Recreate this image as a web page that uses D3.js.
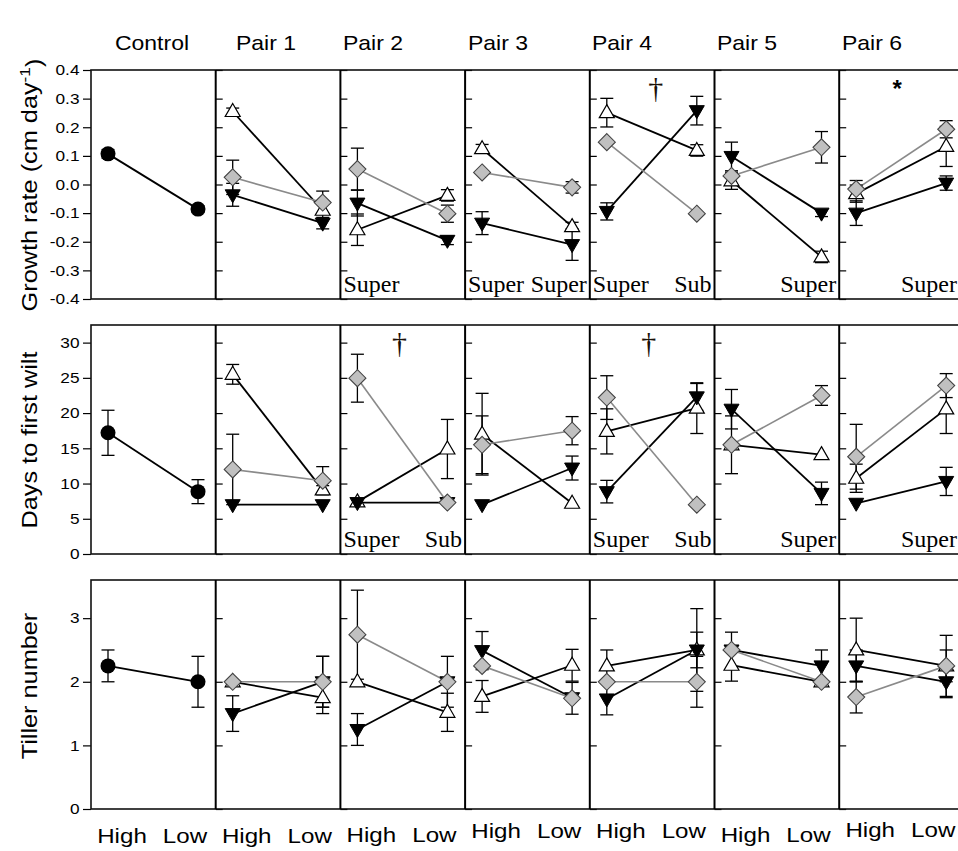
<!DOCTYPE html>
<html><head><meta charset="utf-8">
<script src="https://cdn.jsdelivr.net/npm/d3@7"></script>
<style>body{margin:0;background:#fff} svg{display:block}</style>
</head><body><svg id="c" width="958" height="851"></svg>
<script>
// ---------- DATA ----------
const panels = ["Control","Pair 1","Pair 2","Pair 3","Pair 4","Pair 5","Pair 6"];
const levels = ["High","Low"];
const rowTitles = ["Growth rate (cm day", "Days to first wilt", "Tiller number"];

const growthTicks = [-0.4,-0.3,-0.2,-0.1,0.0,0.1,0.2,0.3,0.4];
const wiltTicks = [0,5,10,15,20,25,30];
const tillerTicks = [0,1,2,3];

// Growth rate (cm day-1)
const growthControl = [0.107, -0.086], growthControlErr = [0.015, 0.012];
const growthOpen  = [[0.255,-0.090],[-0.158,-0.038],[0.125,-0.147],[0.251,0.119],[0.013,-0.253],[-0.032,0.133]];
const growthOpenErr = [[0.012,0.030],[0.055,0.020],[0.015,0.015],[0.050,0.020],[0.030,0.020],[0.030,0.070]];
const growthGray  = [[0.025,-0.063],[0.054,-0.102],[0.042,-0.010],[0.148,-0.102],[0.030,0.130],[-0.016,0.193]];
const growthGrayErr = [[0.060,0.040],[0.073,0.030],[0,0.020],[0,0],[0,0.055],[0.030,0.030]];
const growthBlack = [[-0.036,-0.135],[-0.065,-0.195],[-0.135,-0.210],[-0.094,0.258],[0.098,-0.100],[-0.100,0.005]];
const growthBlackErr = [[0.040,0.020],[0.045,0.015],[0.040,0.055],[0.030,0.050],[0.050,0.012],[0.043,0.025]];

// Days to first wilt
const wiltControl = [17.2, 8.85], wiltControlErr = [3.2, 1.7];
const wiltOpen  = [[25.5,9.1],[7.4,14.9],[17.0,7.2],[17.4,20.7],[15.5,14.1],[10.75,20.6]];
const wiltOpenErr = [[1.4,0.6],[0,4.2],[5.8,0],[3.2,3.6],[0,0],[2.0,3.5]];
const wiltGray  = [[12.0,10.4],[24.95,7.3],[15.5,17.5],[22.2,7.0],[15.5,22.5],[13.8,23.9]];
const wiltGrayErr = [[5.0,2.0],[3.4,0],[4.1,2.0],[3.1,0],[4.1,1.4],[4.6,1.7]];
const wiltBlack = [[7.0,7.0],[7.3,7.3],[7.0,12.2],[8.85,22.3],[20.55,8.6],[7.2,10.3]];
const wiltBlackErr = [[0,0],[0,0],[0,1.7],[1.6,1.9],[2.8,1.6],[0,2.0]];

// Tiller number
const tillerControl = [2.25, 2.0], tillerControlErr = [0.25, 0.4];
const tillerOpen  = [[2.0,1.75],[2.0,1.52],[1.77,2.26],[2.25,2.5],[2.26,2.0],[2.5,2.25]];
const tillerOpenErr = [[0,0.25],[0,0.3],[0.25,0.25],[0.25,0.65],[0.25,0],[0.5,0.25]];
const tillerGray  = [[2.0,2.0],[2.74,2.0],[2.25,1.74],[2.0,2.0],[2.5,2.0],[1.76,2.25]];
const tillerGrayErr = [[0,0.4],[0.7,0.4],[0,0.25],[0,0.4],[0.28,0],[0.25,0.48]];
const tillerBlack = [[1.5,2.0],[1.25,2.0],[2.49,1.75],[1.73,2.5],[2.5,2.25],[2.25,2.0]];
const tillerBlackErr = [[0.28,0.4],[0.25,0],[0.3,0],[0.25,0.28],[0,0.25],[0.25,0.25]];

// annotations (row, panel index, text, side)
const notes = [
 [0,2,"Super","start"],[0,3,"Super","start"],[0,3,"Super","end"],[0,4,"Super","start"],[0,4,"Sub","end"],
 [0,5,"Super","end"],[0,6,"Super","end"],
 [1,2,"Super","start"],[1,2,"Sub","end"],[1,4,"Super","start"],[1,4,"Sub","end"],[1,5,"Super","end"],[1,6,"Super","end"]
];
const marks = [[0,4,"\u2020",66],[1,2,"\u2020",59],[1,4,"\u2020",59],[0,6,"*",58]];

// ---------- LAYOUT ----------
const rows = [
  {top:70, bottom:299, domain:[-0.4,0.4], ticks:growthTicks, fmt:d=>d.toFixed(1), ctrl:growthControl, ctrlErr:growthControlErr,
   open:growthOpen, openErr:growthOpenErr, gray:growthGray, grayErr:growthGrayErr, black:growthBlack, blackErr:growthBlackErr, titleY:185},
  {top:325, bottom:554, domain:[0,32.5], ticks:wiltTicks, fmt:d=>String(d), ctrl:wiltControl, ctrlErr:wiltControlErr,
   open:wiltOpen, openErr:wiltOpenErr, gray:wiltGray, grayErr:wiltGrayErr, black:wiltBlack, blackErr:wiltBlackErr, titleY:440},
  {top:580, bottom:809, domain:[0,3.6], ticks:tillerTicks, fmt:d=>String(d), ctrl:tillerControl, ctrlErr:tillerControlErr,
   open:tillerOpen, openErr:tillerOpenErr, gray:tillerGray, grayErr:tillerGrayErr, black:tillerBlack, blackErr:tillerBlackErr, titleY:686}
];
const SX = 1.15;
const sans = "'Liberation Sans', Arial, sans-serif";
const serif = "'Liberation Serif', 'Times New Roman', serif";
const svg = d3.select('#c');
const PW = 124.7;
const col = d3.scaleBand().domain(panels).range([91, 91 + 7*PW]);
const xIn = d3.scalePoint().domain(levels).range([17,107]);
const xLab = d3.scalePoint().domain(levels).range([31,94]);
const labBase = [843,843,842,838,838,842,837];
const titleX = [152,266,373,498,622,747,872];

// column titles
panels.forEach((p,i)=>{
  svg.append('text').attr('transform',`translate(${titleX[i]},50) scale(${SX},1)`)
    .attr('text-anchor','middle').attr('font-family',sans).attr('font-size',20).text(p);
});

const triUp = "M0,-8L7.5,5L-7.5,5Z";
const triDown = "M0,8L7.5,-5L-7.5,-5Z";
const diamond = "M0,-8.5L8.5,0L0,8.5L-8.5,0Z";

rows.forEach((r,ri)=>{
  const y = d3.scaleLinear().domain(r.domain).range([r.bottom, r.top]);
  // axes
  panels.forEach((p,i)=>{
    const ax = i===0
      ? d3.axisLeft(y).tickValues(r.ticks).tickSize(8).tickPadding(2).tickSizeOuter(0).tickFormat(r.fmt)
      : d3.axisLeft(y).tickValues(r.ticks).tickSize(-7).tickSizeOuter(0).tickFormat('');
    const g = svg.append('g').attr('transform',`translate(${col(p)},0)`).call(ax);
    g.select('.domain').remove();
    g.selectAll('line').attr('stroke','#000').attr('stroke-width',1.2);
    g.selectAll('text').attr('font-family',sans).attr('font-size',15).attr('fill','#000')
      .attr('transform',`scale(${SX},1)`);
  });
  // frame
  svg.append('rect').attr('x',col(panels[0])).attr('y',r.top).attr('width',7*PW).attr('height',r.bottom-r.top)
    .attr('fill','none').attr('stroke','#111').attr('stroke-width',1.6);
  panels.slice(1).forEach(p=>{
    svg.append('line').attr('x1',col(p)).attr('x2',col(p)).attr('y1',r.top).attr('y2',r.bottom)
      .attr('stroke','#000').attr('stroke-width',2);
  });
  // row title
  const tt = svg.append('text').attr('transform',`translate(37,${r.titleY}) rotate(-90) scale(${SX},1)`)
    .attr('text-anchor','middle').attr('font-family',sans).attr('font-size',22);
  tt.append('tspan').text(rowTitles[ri]);
  if (ri===0) {
    tt.append('tspan').attr('dy','-0.5em').attr('font-size',15).text('-1');
    tt.append('tspan').attr('dy','0.5em').text(')');
  }

  const line = d3.line().x(d=>d.x).y(d=>y(d.v));
  function drawErr(g, pts){
    pts.filter(d=>d.e>0).forEach(d=>{
      g.append('line').attr('x1',d.x).attr('x2',d.x).attr('y1',y(d.v+d.e)).attr('y2',y(d.v-d.e))
        .attr('stroke','#000').attr('stroke-width',1.3);
      [d.v+d.e, d.v-d.e].forEach(v=>{
        g.append('line').attr('x1',d.x-6.5).attr('x2',d.x+6.5).attr('y1',y(v)).attr('y2',y(v))
          .attr('stroke','#000').attr('stroke-width',1.3);
      });
    });
  }
  function pts(p, vals, errs){
    return levels.map((l,k)=>({x: col(p)+xIn(l), v: vals[k], e: errs[k]}));
  }
  // control panel
  {
    const g = svg.append('g');
    const P = pts(panels[0], r.ctrl, r.ctrlErr);
    g.append('path').attr('d', line(P)).attr('fill','none').attr('stroke','#000').attr('stroke-width',1.8);
    drawErr(g, P);
    P.forEach(d=>g.append('circle').attr('cx',d.x).attr('cy',y(d.v)).attr('r',7.5).attr('fill','#000'));
  }
  // pair panels
  panels.slice(1).forEach((p,j)=>{
    const g = svg.append('g');
    const O = pts(p, r.open[j], r.openErr[j]);
    const B = pts(p, r.black[j], r.blackErr[j]);
    const G = pts(p, r.gray[j], r.grayErr[j]);
    g.append('path').attr('d', line(O)).attr('fill','none').attr('stroke','#000').attr('stroke-width',1.8);
    g.append('path').attr('d', line(B)).attr('fill','none').attr('stroke','#000').attr('stroke-width',1.8);
    g.append('path').attr('d', line(G)).attr('fill','none').attr('stroke','#8a8a8a').attr('stroke-width',1.6);
    drawErr(g, O); drawErr(g, B); drawErr(g, G);
    O.forEach(d=>g.append('path').attr('d',triUp).attr('transform',`translate(${d.x},${y(d.v)})`)
      .attr('fill','#fff').attr('stroke','#000').attr('stroke-width',1.2));
    B.forEach(d=>g.append('path').attr('d',triDown).attr('transform',`translate(${d.x},${y(d.v)})`)
      .attr('fill','#000').attr('stroke','#000').attr('stroke-width',1));
    G.forEach(d=>g.append('path').attr('d',diamond).attr('transform',`translate(${d.x},${y(d.v)})`)
      .attr('fill','#c0c0c0').attr('stroke','#444').attr('stroke-width',1.1));
  });
});

// Super / Sub notes
notes.forEach(([ri,pi,t,side])=>{
  const r = rows[ri];
  const x0 = col(panels[pi]);
  let xe = x0 + PW - 3;
  if (pi === 6) xe = 957;          // last panel is cut by the picture edge
  svg.append('text').attr('x', side==='start' ? x0+3 : xe).attr('y', r.bottom-7)
    .attr('text-anchor', side).attr('font-family',serif).attr('font-size',24).text(t);
});
// significance marks
marks.forEach(([ri,pi,t,dx])=>{
  const r = rows[ri];
  const x0 = col(panels[pi]);
  if (t==='*') {
    svg.append('text').attr('x',x0+dx).attr('y',r.top+27).attr('text-anchor','middle')
      .attr('font-family',sans).attr('font-weight','bold').attr('font-size',24).text(t);
  } else {
    svg.append('text').attr('x',x0+dx).attr('y',r.top+28).attr('text-anchor','middle')
      .attr('font-family',serif).attr('font-size',30).attr('fill','#1a1008').text(t);
  }
});

// High / Low labels
panels.forEach((p,i)=>{
  levels.forEach(l=>{
    svg.append('text').attr('transform',`translate(${col(p)+xLab(l)},${labBase[i]}) scale(${SX},1)`)
      .attr('text-anchor','middle').attr('font-family',sans).attr('font-size',21).text(l);
  });
});
</script>
</body></html>
